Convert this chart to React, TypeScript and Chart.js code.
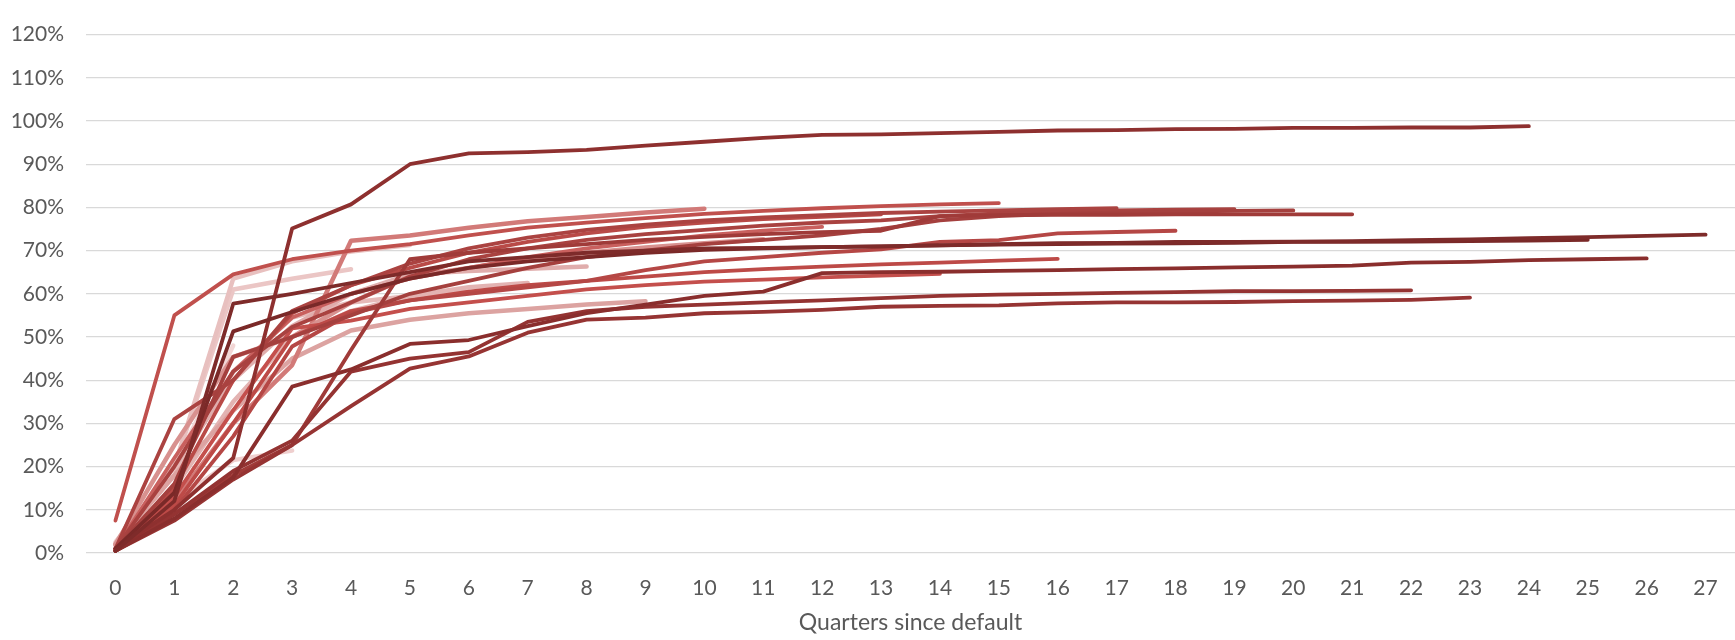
import React, { useEffect, useRef } from "react";
import { Chart, registerables } from "chart.js";

Chart.register(...registerables);

const quarters = ["0","1","2","3","4","5","6","7","8","9","10","11","12","13","14","15","16","17","18","19","20","21","22","23","24","25","26","27"];
const yTicks = [0, 10, 20, 30, 40, 50, 60, 70, 80, 90, 100, 110, 120];
const xTitle = "Quarters since default";

// Recovery curves (% recovered) per cohort, oldest (longest) first
const c27 = [0.5, 12, 57.7, 60, 62.5, 65, 67.5, 68.5, 69.5, 70, 70.5, 70.6, 70.8, 71, 71.2, 71.5, 71.7, 71.8, 72, 72, 72.1, 72.2, 72.4, 72.6, 72.9, 73.1, 73.4, 73.7];
const c26 = [0.5, 8, 17.5, 38.5, 42.5, 48.4, 49.3, 52.5, 55.5, 57.5, 59.5, 60.5, 64.8, 65, 65.1, 65.3, 65.5, 65.7, 65.9, 66.1, 66.3, 66.5, 67.2, 67.4, 67.8, 68, 68.2];
const c25 = [1, 14, 51.3, 55.8, 60, 63.5, 66, 67.5, 68.5, 69.5, 70.2, 70.5, 70.8, 71, 71.2, 71.4, 71.5, 71.6, 71.7, 71.8, 72, 72, 72.1, 72.2, 72.3, 72.5];
const c24 = [1, 10, 22, 75.1, 80.7, 90, 92.5, 92.8, 93.3, 94.3, 95.2, 96.1, 96.8, 96.9, 97.2, 97.5, 97.8, 97.9, 98.1, 98.2, 98.4, 98.4, 98.5, 98.5, 98.8];
const c23 = [0.5, 7.5, 17, 25, 34, 42.7, 45.5, 51, 54, 54.5, 55.5, 55.8, 56.3, 57, 57.2, 57.3, 57.8, 58, 58, 58.1, 58.3, 58.4, 58.6, 59.1];
const c22 = [0.5, 9, 19, 26, 42, 45, 46.5, 53.5, 56, 57, 57.5, 58, 58.5, 59, 59.5, 59.8, 60, 60.2, 60.4, 60.6, 60.6, 60.7, 60.8];
const c21 = [0.5, 9, 18, 25, 47, 68, 69.5, 70.5, 71.5, 72.5, 73.2, 73.8, 74.3, 74.6, 78, 78.2, 78.3, 78.3, 78.4, 78.4, 78.4, 78.4];
const c20 = [1, 16, 45.4, 50, 55, 60, 63, 66, 68.5, 70, 71.5, 72.5, 73.5, 75, 77, 78, 78.5, 78.8, 79, 79.2, 79.3];
const c19 = [1, 20, 42, 52.3, 58, 64, 68, 70.5, 72.5, 73.8, 74.8, 75.8, 76.5, 77, 78, 78.6, 79, 79.3, 79.5, 79.6];
const c18 = [0.5, 10, 27, 47.8, 55.5, 58.5, 60, 61.5, 63, 65.5, 67.5, 68.5, 69.5, 70.3, 72, 72.4, 74, 74.3, 74.6];
const c17 = [1, 31, 40, 56, 62, 67, 70.5, 73, 74.8, 76, 77, 77.7, 78.2, 78.7, 79, 79.3, 79.6, 79.8];
const c16 = [1, 11, 30, 50, 56, 58.5, 60.5, 62, 63, 64, 65, 65.7, 66.3, 66.8, 67.2, 67.7, 68.1];
const c15 = [7.5, 55, 64.5, 68, 70, 71.5, 73.5, 75.3, 76.5, 77.5, 78.5, 79.2, 79.8, 80.3, 80.7, 81];
const c14 = [1, 13, 33, 52, 53.8, 56.5, 58, 59.5, 61, 62, 62.8, 63.3, 63.8, 64.2, 64.6];
const c13 = [1, 15, 40, 55.5, 62, 66, 69.5, 72, 74, 75.5, 76.5, 77.3, 77.8, 78.4];
const c12 = [1, 22, 42, 54.5, 60, 63.5, 66, 68.5, 70.5, 72, 73.5, 74.6, 75.5];
const c11 = [2, 25, 45.4, 50, 58, 64, 66, 68, 69.5, 70.7, 71.7, 72.6];
const c10 = [1, 12, 30, 43.5, 72.3, 73.5, 75.3, 76.8, 77.8, 78.8, 79.7];
const c9 = [2, 18, 33, 45, 51.5, 54, 55.5, 56.5, 57.5, 58.3];
const c8 = [2, 20, 40, 52.5, 60, 64.5, 65.3, 65.8, 66.3];
const c7 = [2, 15, 35, 50, 56, 59.5, 61.5, 62.5];
const c6 = [2, 18, 42, 54.5, 58, 59.5, 60.5];
const c5 = [2, 20, 63.5, 67.5, 69.8, 71.3];
const c4 = [2.5, 20, 61, 63.5, 65.7];
const c3 = [1.5, 12, 21.5, 23.7];
const c2 = [2, 20, 48];

const cohorts = [c27, c26, c25, c24, c23, c22, c21, c20, c19, c18, c17, c16, c15, c14, c13, c12, c11, c10, c9, c8, c7, c6, c5, c4, c3, c2];
const colors = [
  "#7e2b2a", "#8a2e2d", "#7a2928", "#8e302f", "#963433", "#943332", "#a03b39", "#a5403e", "#a94240",
  "#b54745", "#ab4341", "#bd4a47", "#c0504d", "#c44f4c", "#b94a47", "#c9605e", "#d8918f", "#d27a78",
  "#dca3a1", "#e0adac", "#e3b3b2", "#e6b9b8", "#e8c0bf", "#ebc6c5", "#efcfce", "#f2d6d5"
];

export default function App() {
  const ref = useRef<HTMLCanvasElement | null>(null);
  useEffect(() => {
    if (!ref.current) return;
    const chart = new Chart(ref.current, {
      type: "line",
      data: {
        labels: quarters,
        datasets: cohorts.map((d, i) => ({
          label: "Cohort " + (i + 1),
          data: d,
          borderColor: colors[i],
          backgroundColor: colors[i],
          borderWidth: i >= 16 ? 4.5 : 3.8,
          pointRadius: 0,
          tension: 0,
          fill: false,
          borderCapStyle: "round" as const,
          borderJoinStyle: "round" as const,
        })),
      },
      options: {
        animation: false,
        responsive: true,
        maintainAspectRatio: false,
        devicePixelRatio: 1,
        layout: { padding: { top: 20, right: 0, bottom: 0, left: 0 } },
        plugins: { legend: { display: false }, tooltip: { enabled: false } },
        scales: {
          x: {
            type: "category",
            offset: true,
            grid: { display: false },
            border: { display: false },
            ticks: {
              color: "#595959",
              font: { family: "Lato", size: 21 },
              padding: 15,
              maxRotation: 0,
              autoSkip: false,
            },
            title: {
              display: true,
              text: xTitle,
              color: "#595959",
              font: { family: "Lato", size: 23 },
              padding: { top: 0, bottom: 4 },
            },
            afterFit: (s: any) => { s.height = 87; },
          },
          y: {
            min: 0,
            max: 120,
            afterBuildTicks: (s: any) => { s.ticks = yTicks.map((v) => ({ value: v })); },
            grid: { color: "#d9d9d9", lineWidth: 1.3, drawTicks: false },
            border: { display: false },
            ticks: {
              color: "#595959",
              font: { family: "Lato", size: 21 },
              padding: 22,
              callback: (v: any) => v + "%",
            },
            afterFit: (s: any) => { s.width = 86; },
          },
        },
      },
    });
    return () => chart.destroy();
  }, []);
  return (
    <div style={{ position: "fixed", left: 0, top: 0, width: 1735, height: 640, background: "#fff" }}>
      <canvas ref={ref} />
    </div>
  );
}
